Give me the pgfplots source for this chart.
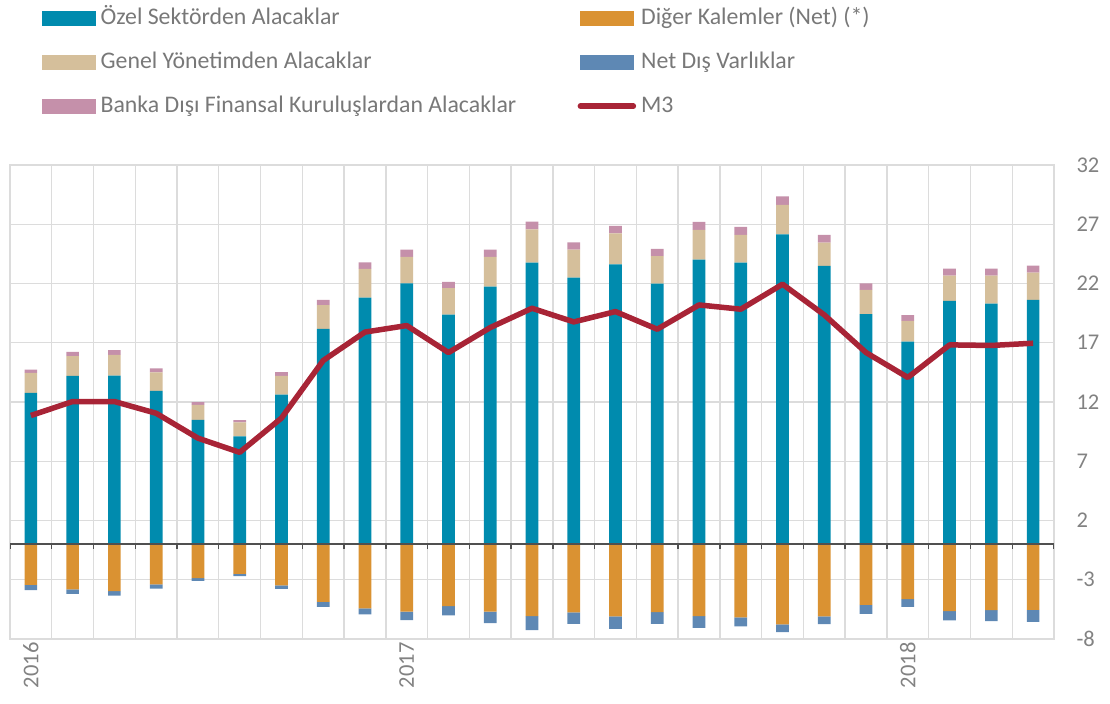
\documentclass[border=0pt]{standalone}
\usepackage{fontspec}
\setmainfont{Carlito}
\usepackage{pgfplots}
\usepackage{pgfplotstable}
\pgfplotsset{compat=1.18}
\definecolor{cteal}{RGB}{0,139,174}
\definecolor{corange}{RGB}{218,146,50}
\definecolor{cbeige}{RGB}{213,191,155}
\definecolor{cblue}{RGB}{94,136,180}
\definecolor{cpink}{RGB}{197,144,170}
\definecolor{cred}{RGB}{168,36,54}
\definecolor{cgrid}{RGB}{220,220,220}
\definecolor{ctext}{RGB}{130,130,130}
\definecolor{clegend}{RGB}{120,120,120}
\definecolor{czero}{RGB}{80,80,80}

\pgfplotstableread{
x teal beige pink orange blue m3
1 12.77 1.69 0.28 -3.43 -0.45 10.86
2 14.21 1.66 0.36 -3.82 -0.37 12.04
3 14.23 1.75 0.39 -3.96 -0.37 12.04
4 12.94 1.55 0.34 -3.40 -0.34 11.05
5 10.50 1.26 0.23 -2.87 -0.22 8.95
6 9.09 1.18 0.20 -2.50 -0.20 7.75
7 12.63 1.58 0.31 -3.48 -0.29 10.64
8 18.17 2.00 0.45 -4.86 -0.43 15.50
9 20.81 2.42 0.56 -5.42 -0.51 17.90
10 22.02 2.22 0.62 -5.70 -0.71 18.45
11 19.38 2.22 0.53 -5.23 -0.78 16.17
12 21.74 2.50 0.62 -5.70 -0.96 18.28
13 23.76 2.81 0.65 -6.07 -1.18 19.91
14 22.50 2.36 0.62 -5.76 -0.96 18.76
15 23.62 2.62 0.62 -6.10 -1.04 19.63
16 21.99 2.31 0.62 -5.73 -0.99 18.14
17 24.01 2.51 0.67 -6.07 -0.99 20.19
18 23.76 2.34 0.67 -6.18 -0.76 19.83
19 26.15 2.48 0.73 -6.77 -0.65 21.94
20 23.48 1.97 0.65 -6.10 -0.65 19.35
21 19.41 2.05 0.56 -5.12 -0.76 16.17
22 17.10 1.75 0.48 -4.64 -0.65 14.07
23 20.53 2.14 0.59 -5.65 -0.78 16.82
24 20.31 2.36 0.59 -5.57 -0.92 16.77
25 20.62 2.30 0.59 -5.54 -1.01 16.96
}\data

\pgfplotsset{base/.style={width=1044bp,height=474bp,scale only axis,
  xmin=0.5,xmax=25.5,ymin=-8,ymax=32}}

\begin{document}
\begin{tikzpicture}
\path[use as bounding box] (-10bp,-65bp) rectangle (1100bp,639bp);
% axis 1: grid, labels, positive stacked bars
\begin{axis}[base, ybar stacked, bar width=12.7bp,
  ytick={-8,-3,...,32}, yticklabel pos=right,
  xtick={1,10,22}, xticklabels={2016,2017,2018},
  minor xtick={0.5,1.5,...,25.5},
  ymajorgrids, xminorgrids, xmajorgrids=false,
  major grid style={cgrid, line width=1.4bp},
  minor grid style={cgrid, line width=1.4bp},
  axis line style={cgrid, line width=1.4bp},
  major tick length=0pt, minor tick length=0pt,
  tick label style={font=\fontsize{22.5bp}{25bp}\selectfont, text=ctext},
  /pgf/number format/assume math mode=true,
  yticklabel style={anchor=west, xshift=19bp},
  xticklabel style={rotate=90, anchor=east},
]
\addplot[fill=cteal, draw=none] table[x=x,y=teal]{\data};
\addplot[fill=cbeige, draw=none] table[x=x,y=beige]{\data};
\addplot[fill=cpink, draw=none] table[x=x,y=pink]{\data};
\end{axis}
% axis 2: negative stacked bars
\begin{axis}[base, ybar stacked, bar width=12.7bp, hide axis]
\addplot[fill=corange, draw=none] table[x=x,y=orange]{\data};
\addplot[fill=cblue, draw=none] table[x=x,y=blue]{\data};
\end{axis}
% axis 3: zero line, M3 and legend
\begin{axis}[base, hide axis,
  legend columns=2,
  legend style={at={(0.0307,1.3344)}, anchor=north west, draw=none, fill=none,
    inner sep=0pt, font=\fontsize{23.8bp}{26bp}\selectfont, text=clegend,
    row sep=19bp, column sep=4bp,
    nodes={inner sep=1bp, text height=17bp, text depth=6bp, anchor=west}},
]
\draw[czero, line width=1.6bp] (axis cs:0.5,0) -- (axis cs:25.5,0);
\pgfplotsinvokeforeach{0.5,1.5,...,25.5}{\draw[czero, line width=1.4bp] (axis cs:#1,0) -- ([yshift=-5bp]axis cs:#1,0);}
\addlegendimage{legend image code/.code={\fill[cteal] (0bp,-6bp) rectangle (53bp,8bp);}}
\addlegendentry{\makebox[472bp][l]{Özel Sektörden Alacaklar}}
\addlegendimage{legend image code/.code={\fill[corange] (0bp,-6bp) rectangle (53bp,8bp);}}
\addlegendentry{Diğer Kalemler (Net) (*)}
\addlegendimage{legend image code/.code={\fill[cbeige] (0bp,-6bp) rectangle (53bp,8bp);}}
\addlegendentry{\makebox[472bp][l]{Genel Yönetimden Alacaklar}}
\addlegendimage{legend image code/.code={\fill[cblue] (0bp,-6bp) rectangle (53bp,8bp);}}
\addlegendentry{Net Dış Varlıklar}
\addlegendimage{legend image code/.code={\fill[cpink] (0bp,-6bp) rectangle (53bp,8bp);}}
\addlegendentry{\makebox[472bp][l]{Banka Dışı Finansal Kuruluşlardan Alacaklar}}
\addlegendimage{legend image code/.code={\draw[cred, line width=5.5bp, line cap=round] (0bp,1bp) -- (53bp,1bp);}}
\addlegendentry{M3}
\addplot[cred, line width=5.5bp, line join=round, mark=none, forget plot] table[x=x,y=m3]{\data};
\end{axis}
\end{tikzpicture}
\end{document}
